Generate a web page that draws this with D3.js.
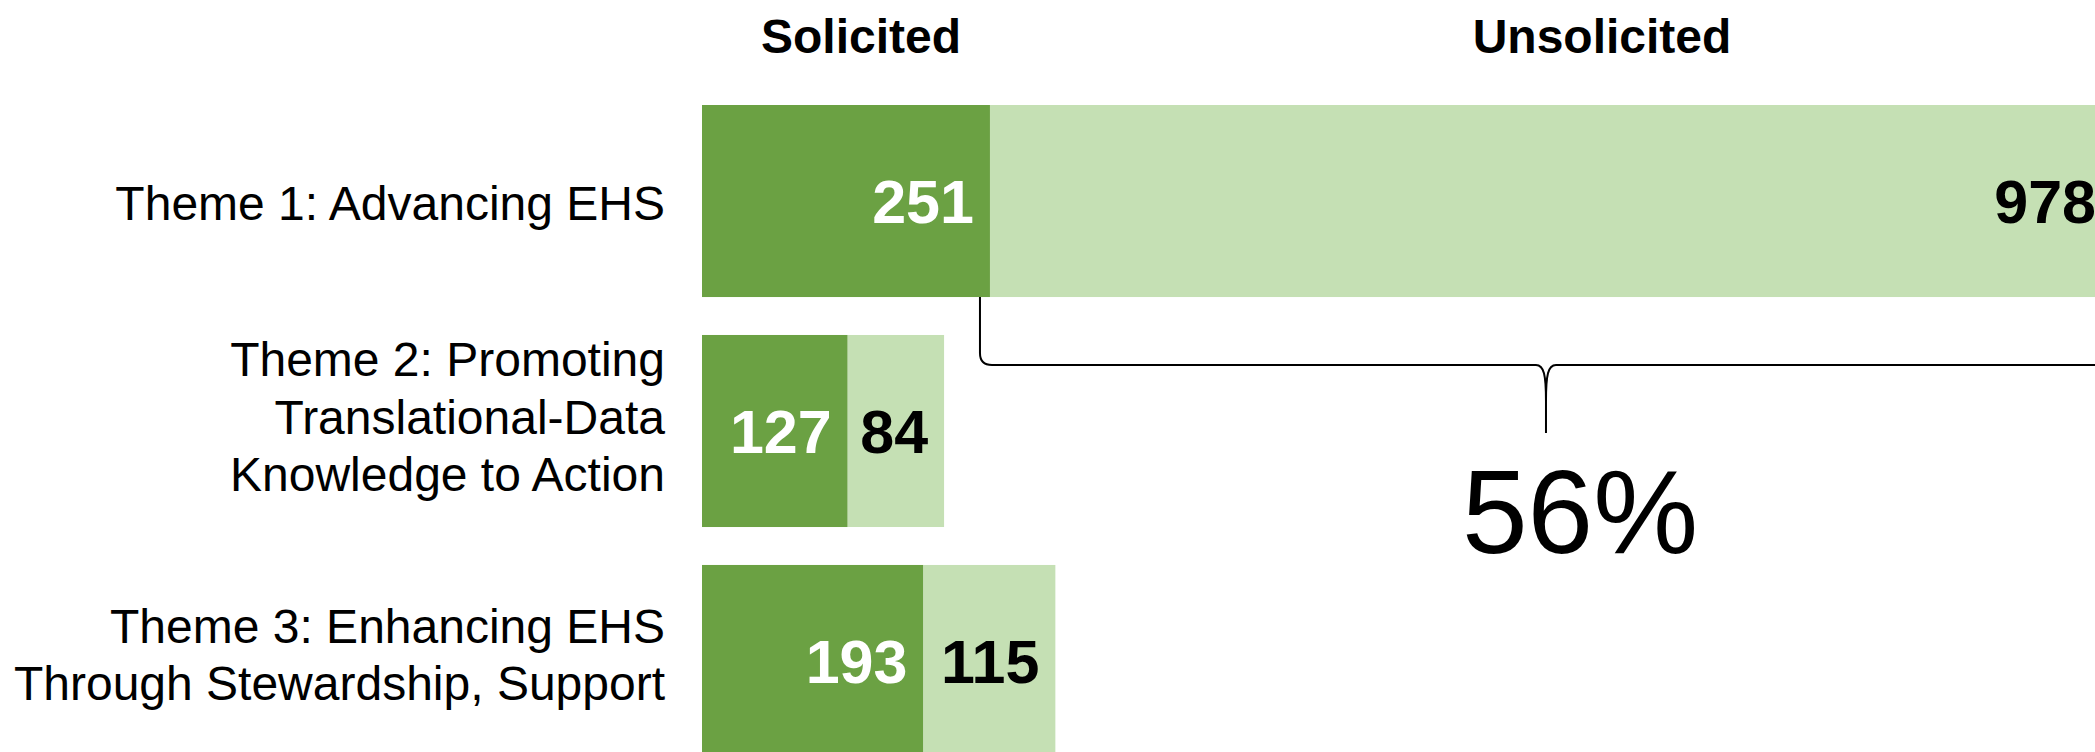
<!DOCTYPE html>
<html>
<head>
<meta charset="utf-8">
<script src="https://cdn.jsdelivr.net/npm/d3@7"></script>
<style>
  body { margin: 0; background: #fff; }
  svg { display: block; font-family: "Liberation Sans", Arial, sans-serif; }
</style>
</head>
<body>
<div id="chart"></div>
<script>
// data
const themes = ["Theme 1", "Theme 2", "Theme 3"];
const themeLines = [
    ["Theme 1: Advancing EHS"],
    ["Theme 2: Promoting", "Translational-Data", "Knowledge to Action"],
    ["Theme 3: Enhancing EHS", "Through Stewardship, Support"]
];
const solicited = [251, 127, 193];
const unsolicited = [978, 84, 115];
const seriesNames = ["Solicited", "Unsolicited"];

const width = 2095, height = 752;
const dark = "#6ba143", light = "#c5e0b4";

const svg = d3.select("#chart")
  .append("svg")
    .attr("width", width)
    .attr("height", height);

// scales
const x = d3.scaleLinear()
    .domain([0, d3.max(solicited.map((d, i) => d + unsolicited[i]))])
    .range([702, 2112]);

const y = d3.scaleBand()
    .domain(themes)
    .range([105, 757])
    .paddingInner(0.165)
    .paddingOuter(0);

const rows = themes.map((t, i) => ({
    theme: t, lines: themeLines[i], sol: solicited[i], uns: unsolicited[i]
}));

// bars
const g = svg.append("g");

g.selectAll("rect.sol")
  .data(rows)
  .join("rect")
    .attr("class", "sol")
    .attr("x", x(0))
    .attr("y", d => y(d.theme))
    .attr("width", d => x(d.sol) - x(0))
    .attr("height", y.bandwidth())
    .attr("fill", dark);

g.selectAll("rect.uns")
  .data(rows)
  .join("rect")
    .attr("class", "uns")
    .attr("x", d => x(d.sol))
    .attr("y", d => y(d.theme))
    .attr("width", d => x(d.sol + d.uns) - x(d.sol))
    .attr("height", y.bandwidth())
    .attr("fill", light);

// value labels
const mid = d => y(d.theme) + y.bandwidth() / 2;

g.selectAll("text.vsol")
  .data(rows)
  .join("text")
    .attr("class", "vsol")
    .attr("x", d => x(d.sol) - 16)
    .attr("y", d => mid(d) + 22)
    .attr("text-anchor", "end")
    .attr("fill", "#fff")
    .style("font-size", "61px")
    .style("font-weight", "bold")
    .text(d => d.sol);

g.selectAll("text.vuns")
  .data(rows)
  .join("text")
    .attr("class", "vuns")
    .attr("x", d => x(d.sol + d.uns) - 16)
    .attr("y", d => mid(d) + 22)
    .attr("text-anchor", "end")
    .attr("fill", "#000")
    .style("font-size", "61px")
    .style("font-weight", "bold")
    .text(d => d.uns);

// category labels
const lineH = 57.5;
const lab = g.selectAll("text.cat")
  .data(rows)
  .join("text")
    .attr("class", "cat")
    .attr("text-anchor", "end")
    .attr("fill", "#000")
    .style("font-size", "48px");

lab.selectAll("tspan")
  .data(d => d.lines.map((l, i) => ({ l, i, n: d.lines.length, c: mid(d) })))
  .join("tspan")
    .attr("x", 665)
    .attr("y", d => d.c + 19 - (d.n - 1) * 37 + d.i * lineH)
    .text(d => d.l);

// series headers
svg.selectAll("text.head")
  .data(seriesNames)
  .join("text")
    .attr("class", "head")
    .attr("x", (d, i) => [861, 1602][i])
    .attr("y", 53)
    .attr("text-anchor", "middle")
    .style("font-size", "48px")
    .style("font-weight", "bold")
    .text(d => d);

// brace under theme 1 unsolicited
const b0 = x(solicited[0]) - 10;
const b1 = x(solicited[0] + unsolicited[0]);
const bm = (b0 + b1) / 2;
const barBottom = y(themes[0]) + y.bandwidth();
const by = 365, tip = 433, r = 12;

const brace = d3.path();
brace.moveTo(b0, barBottom);
brace.lineTo(b0, by - r);
brace.quadraticCurveTo(b0, by, b0 + r, by);
brace.lineTo(bm - 10, by);
brace.bezierCurveTo(bm - 2, by, bm, by + 10, bm, by + 36);
brace.lineTo(bm, tip);
brace.moveTo(bm, by + 36);
brace.bezierCurveTo(bm, by + 10, bm + 2, by, bm + 10, by);
brace.lineTo(b1 - r, by);
brace.quadraticCurveTo(b1, by, b1, by - r);
brace.lineTo(b1, barBottom);

svg.append("path")
    .attr("d", brace.toString())
    .attr("fill", "none")
    .attr("stroke", "#000")
    .attr("stroke-width", 2);

const total = d3.sum(solicited) + d3.sum(unsolicited);
svg.append("text")
    .attr("x", bm + 34)
    .attr("y", 553)
    .attr("text-anchor", "middle")
    .style("font-size", "118px")
    .text(d3.format(".0%")(unsolicited[0] / total));
</script>
</body>
</html>
